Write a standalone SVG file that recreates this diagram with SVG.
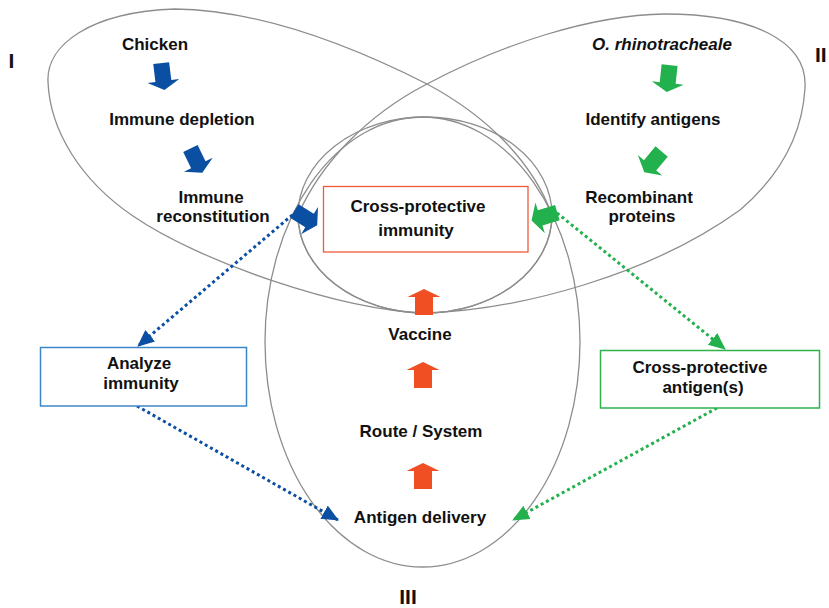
<svg xmlns="http://www.w3.org/2000/svg" width="829" height="608" viewBox="0 0 829 608">
<style>
.loop{fill:none;stroke:#8d8d8d;stroke-width:1.3}
.t{font-family:"Liberation Sans",Arial,sans-serif;font-weight:bold;font-size:17px;fill:#111;text-anchor:middle}
.lab{font-family:"Liberation Sans",Arial,sans-serif;font-weight:bold;font-size:21px;fill:#111}
.dotb{fill:none;stroke:#0b4fa3;stroke-width:3;stroke-dasharray:3 3}
.dotg{fill:none;stroke:#22b14c;stroke-width:3;stroke-dasharray:3 3}
.blue{fill:#0b4fa3}.green{fill:#22b14c}.orange{fill:#f04e23}
</style>
<defs>
<path id="dn" d="M-8,-15 L8,-15 L8,3 L16,3 L0,12 L-16,3 L-8,3 Z"/>
<path id="up" d="M-9,13 L9,13 L9,-5 L16.5,-5 L0,-13 L-16.5,-5 L-9,-5 Z"/>
<marker id="mb" markerUnits="userSpaceOnUse" markerWidth="18" markerHeight="16" refX="16" refY="7.5" orient="auto"><path d="M0,0 L17,7.5 L0,15 Z" fill="#0b4fa3"/></marker>
<marker id="mg" markerUnits="userSpaceOnUse" markerWidth="18" markerHeight="16" refX="16" refY="7.5" orient="auto"><path d="M0,0 L17,7.5 L0,15 Z" fill="#22b14c"/></marker>
</defs>
<rect width="829" height="608" fill="#fff"/>
<g id="regions">
<path id="loopI" class="loop" d="M48,82 C46,45 90,12 175,9 C260,10 350,45 427,84 C485,115 532,160 552,215 A127 98 0 0 1 425,313 C340,310 200,262 133,216 C80,180 50,130 48,82 Z"/>
<path id="loopII" class="loop" d="M805,88 C808,40 750,14 665,14 C590,15 500,45 427,84 C365,116 320,165 298,215 A127 98 0 0 0 425,313 C520,310 650,275 740,210 C775,180 802,140 805,88 Z"/>
<ellipse id="ellIII" class="loop" cx="422.5" cy="342" rx="157.5" ry="225"/>
<ellipse id="inner" class="loop" cx="425" cy="215" rx="127" ry="98"/>
<text class="lab" x="8.5" y="68">I</text>
<text class="lab" x="815" y="62">II</text>
<text class="lab" x="408" y="604" text-anchor="middle">III</text>
</g>
<g id="connectors">
<path class="dotb" d="M297,211 L138,346" marker-end="url(#mb)"/>
<path class="dotb" d="M137,406 L338,520" marker-end="url(#mb)"/>
<path class="dotg" d="M557,213 L725,349" marker-end="url(#mg)"/>
<path class="dotg" d="M717,408 L513,520" marker-end="url(#mg)"/>
<use href="#dn" class="blue" transform="translate(163,78) rotate(-7)"/>
<use href="#dn" class="blue" transform="translate(197,162) rotate(-26)"/>
<use href="#dn" class="blue" transform="translate(307,219) rotate(-58)"/>
<use href="#dn" class="green" transform="translate(668,80) rotate(6)"/>
<use href="#dn" class="green" transform="translate(652,163) rotate(40)"/>
<use href="#dn" class="green" transform="translate(543,217) rotate(73)"/>
<use href="#up" class="orange" transform="translate(424,302)"/>
<use href="#up" class="orange" transform="translate(423,375)"/>
<use href="#up" class="orange" transform="translate(423,476)"/>
</g>
<g id="chicken"><text class="t" x="155" y="50">Chicken</text></g>
<g id="depletion"><text class="t" x="182" y="125">Immune depletion</text></g>
<g id="reconstitution"><text class="t" x="211" y="203">Immune</text><text class="t" x="213" y="222">reconstitution</text></g>
<g id="orn"><text class="t" x="662" y="50" font-style="italic">O. rhinotracheale</text></g>
<g id="identify"><text class="t" x="653" y="125">Identify antigens</text></g>
<g id="recombinant"><text class="t" x="639" y="203">Recombinant</text><text class="t" x="642" y="222">proteins</text></g>
<g id="crossImmunity"><rect x="323.5" y="186.5" width="204.5" height="65.5" fill="#fff" stroke="#ee5a3a" stroke-width="1.3"/><text class="t" x="418" y="212">Cross-protective</text><text class="t" x="416" y="236">immunity</text></g>
<g id="vaccine"><text class="t" x="420" y="340">Vaccine</text></g>
<g id="route"><text class="t" x="421" y="437">Route / System</text></g>
<g id="delivery"><text class="t" x="420" y="523">Antigen delivery</text></g>
<g id="analyze"><rect x="40.5" y="347.5" width="206" height="58.5" fill="#fff" stroke="#3b86c8" stroke-width="1.5"/><text class="t" x="139" y="369">Analyze</text><text class="t" x="141" y="389">immunity</text></g>
<g id="crossAntigen"><rect x="600.5" y="350.5" width="219" height="57.5" fill="#fff" stroke="#2db34a" stroke-width="1.5"/><text class="t" x="700" y="373">Cross-protective</text><text class="t" x="703" y="393">antigen(s)</text></g>
</svg>
